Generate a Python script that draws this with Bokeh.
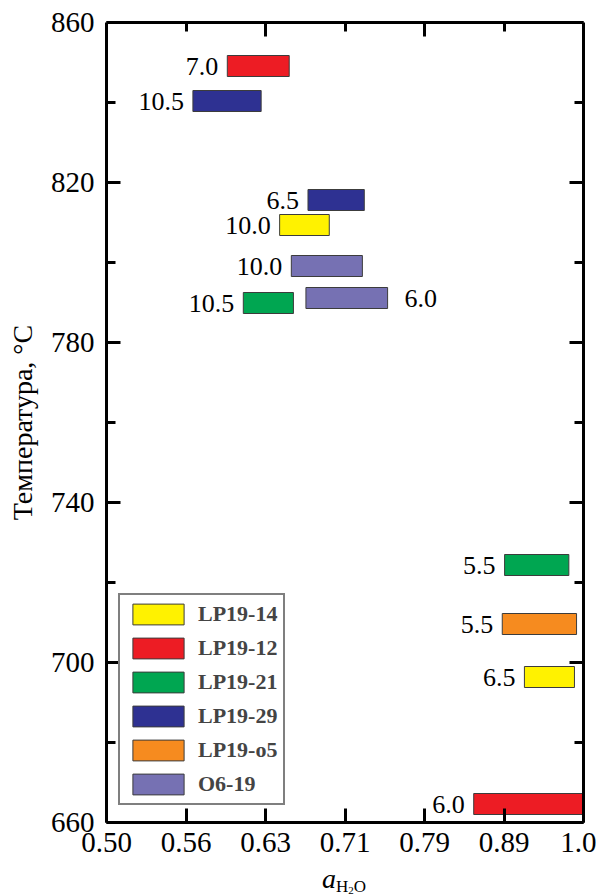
import numpy as np
from bokeh.plotting import figure
from bokeh.layouts import column
from bokeh.models import (Range1d, FixedTicker, LogAxis, LinearAxis, ColumnDataSource,
                          Div, CustomLabelingPolicy)
from bokeh.embed import file_html
from bokeh.resources import INLINE
from bokeh.core.properties import value

# ---- data ----
samples = ["LP19-12", "LP19-29", "LP19-29", "LP19-14", "O6-19", "LP19-21",
           "O6-19", "LP19-21", "LP19-o5", "LP19-14", "LP19-12"]
a_low = [0.597, 0.568, 0.671, 0.644, 0.655, 0.611, 0.669, 0.892, 0.889, 0.918, 0.853]
a_high = [0.653, 0.627, 0.728, 0.692, 0.726, 0.657, 0.753, 0.979, 0.990, 0.987, 1.000]
t_low = [846.5, 837.75, 813.0, 806.75, 796.5, 787.25, 788.5, 721.75, 707.0, 693.75, 662.0]
t_high = [851.75, 843.0, 818.25, 812.0, 801.75, 792.5, 793.75, 727.0, 712.25, 699.0, 667.25]
bar_labels = ["7.0", "10.5", "6.5", "10.0", "10.0", "10.5", "6.0", "5.5", "5.5", "6.5", "6.0"]
label_side = ["left", "left", "left", "left", "left", "left", "right",
              "left", "left", "left", "left"]

legend_order = ["LP19-14", "LP19-12", "LP19-21", "LP19-29", "LP19-o5", "O6-19"]
sample_colors = ["#FFF200", "#ED1C24", "#00A651", "#2E3192", "#F68B1F", "#7671B3"]

x_tick_exps = [-0.30, -0.25, -0.20, -0.15, -0.10, -0.05, 0.0]
x_tick_labels = ["0.50", "0.56", "0.63", "0.71", "0.79", "0.89", "1.0"]
y_major = [660, 700, 740, 780, 820, 860]
y_minor = [680, 720, 760, 800, 840]

FONT = "Liberation Serif"

x_ticks = [10 ** e for e in x_tick_exps]

p = figure(width=596, height=868, x_axis_type="log",
           x_range=Range1d(x_ticks[0], x_ticks[-1]), y_range=Range1d(660, 860),
           output_backend="svg", toolbar_location=None,
           min_border_left=106, min_border_right=13, min_border_top=22, min_border_bottom=46)
p.grid.visible = False
p.outline_line_color = None
p.background_fill_color = "white"

no_labels = CustomLabelingPolicy(code="""
for (let i = 0; i < indices.size; i++) { indices.unset(i) }
return indices
""")


def style_axis(ax, major_in=14, minor_in=9):
    ax.axis_line_width = 3
    ax.axis_line_color = "black"
    ax.major_tick_in = major_in
    ax.major_tick_out = 0
    ax.minor_tick_in = minor_in
    ax.minor_tick_out = 0
    ax.major_tick_line_width = 3
    ax.minor_tick_line_width = 3
    ax.major_tick_line_color = "black"
    ax.minor_tick_line_color = "black"
    ax.major_label_text_font = FONT
    ax.major_label_text_font_size = "29px"
    ax.major_label_text_color = "black"


# bottom axis
xb = p.xaxis[0]
xb.ticker = FixedTicker(ticks=x_ticks, minor_ticks=[])
xb.major_label_overrides = {t: l for t, l in zip(x_ticks, x_tick_labels)}
style_axis(xb)
xb.major_label_standoff = 10

# left axis
yl = p.yaxis[0]
yl.ticker = FixedTicker(ticks=y_major, minor_ticks=y_minor)
style_axis(yl)
yl.major_label_standoff = 12
yl.axis_label = "Температура, °C"
yl.axis_label_text_font = FONT
yl.axis_label_text_font_size = "28px"
yl.axis_label_text_font_style = "normal"
yl.axis_label_text_color = "black"
yl.axis_label_standoff = 10

# top axis (ticks only)
xt = LogAxis(ticker=FixedTicker(ticks=[x_ticks[2], x_ticks[4]],
                                minor_ticks=[x_ticks[1], x_ticks[3], x_ticks[5]]))
style_axis(xt)
xt.major_label_policy = no_labels
xt.major_label_text_font_size = "0px"
xt.major_label_standoff = 0
p.add_layout(xt, "above")

# right axis (ticks only)
yr = LinearAxis(ticker=FixedTicker(ticks=y_major, minor_ticks=y_minor))
style_axis(yr)
yr.major_label_policy = no_labels
yr.major_label_text_font_size = "0px"
yr.major_label_standoff = 0
p.add_layout(yr, "right")

# bars, one renderer per sample (legend order)
for name, col in zip(legend_order, sample_colors):
    idx = [i for i, s in enumerate(samples) if s == name]
    src = ColumnDataSource(dict(
        left=[a_low[i] for i in idx], right=[a_high[i] for i in idx],
        bottom=[t_low[i] for i in idx], top=[t_high[i] for i in idx]))
    p.quad(left="left", right="right", bottom="bottom", top="top", source=src,
           fill_color=col, line_color="#3C3C3C", line_width=1, legend_label=name)

# bar value labels
for side, align, off in [("left", "right", -9), ("right", "left", 17)]:
    idx = [i for i, s in enumerate(label_side) if s == side]
    src = ColumnDataSource(dict(
        x=[a_low[i] if side == "left" else a_high[i] for i in idx],
        y=[(t_low[i] + t_high[i]) / 2 for i in idx],
        text=[bar_labels[i] for i in idx]))
    p.text(x="x", y="y", text="text", source=src, x_offset=off, text_align=align,
           text_baseline="middle", text_font=value(FONT), text_font_size="26px",
           text_color="black")

leg = p.legend[0]
leg.location = (12, 17)
leg.margin = 0
leg.padding = 6
leg.border_line_color = "black"
leg.border_line_width = 2
leg.background_fill_alpha = 1
leg.glyph_width = 64
leg.glyph_height = 26
leg.label_height = 26
leg.spacing = 8
leg.label_standoff = 8
leg.label_text_font = FONT
leg.label_text_font_style = "bold"
leg.label_text_font_size = "22px"
leg.label_text_baseline = "middle"

# x axis title: italic a with subscript H2O
xlabel = Div(
    text=('<div style="margin-left:322px; font-family:\'Liberation Serif\'; font-size:28px; '
          'line-height:22px; white-space:nowrap; color:black">'
          '<i>a</i><span style="font-size:17px; position:relative; top:4px">H'
          '<span style="font-size:11px; position:relative; top:2px">2</span>O</span></div>'),
    width=596, height=27, margin=0)

layout = column(p, xlabel, spacing=0)
open("out.html", "w").write(file_html(layout, INLINE))
